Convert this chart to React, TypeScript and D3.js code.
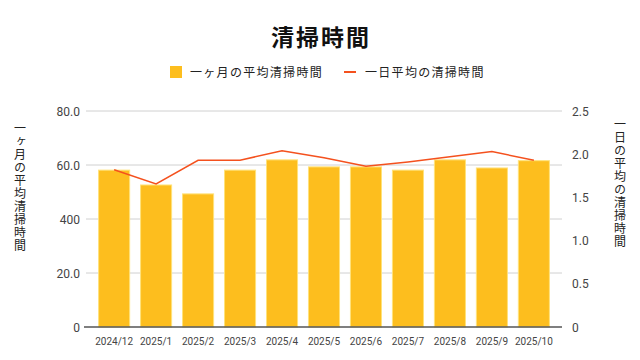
import React from "react";
import * as d3 from "d3";

// data
const months = ["2024/12", "2025/1", "2025/2", "2025/3", "2025/4", "2025/5", "2025/6", "2025/7", "2025/8", "2025/9", "2025/10"];
const monthlyAvg = [58.1, 52.6, 49.3, 58.1, 61.9, 59.3, 59.3, 58.1, 61.9, 58.9, 61.6];
const dailyAvg = [1.82, 1.655, 1.93, 1.93, 2.04, 1.96, 1.86, 1.91, 1.97, 2.03, 1.93];
const leftTicks = [0, 20, 40, 60, 80];
const leftTickLabels = ["0", "20.0", "400", "60.0", "80.0"]; // as shown in the source
const rightTicks = [0, 0.5, 1.0, 1.5, 2.0, 2.5];
const rightTickLabels = ["0", "0.5", "1.0", "1.5", "2.0", "2.5"];

const W = 640, H = 360;
const plot = { left: 86, right: 562, top: 111, bottom: 327 };
const barColor = "#FDBE1E";
const lineColor = "#F4511E";
const font = "Roboto, 'Noto Sans CJK JP', sans-serif";
const jp = "'Noto Sans CJK JP', sans-serif";

export default function App() {
  const x = d3.scaleBand<string>().domain(months).range([plot.left, plot.right]).paddingInner(0.26).paddingOuter(0.3);
  const yL = d3.scaleLinear().domain([0, 80]).range([plot.bottom, plot.top]);
  const yR = d3.scaleLinear().domain([0, 2.5]).range([plot.bottom, plot.top]);

  const line = d3.line<number>()
    .x((_, i) => (x(months[i]) as number) + x.bandwidth() / 2)
    .y((d) => yR(d));

  return (
    <svg width={W} height={H} style={{ position: "absolute", left: 0, top: 0, background: "#fff" }}>
      <text x={321} y={46} textAnchor="middle" fontFamily={jp} fontWeight="bold" fontSize={23} letterSpacing={2} fill="#111">清掃時間</text>

      {/* legend */}
      <rect x={170} y={66} width={12} height={12} fill={barColor} />
      <text x={190} y={76.5} fontFamily={jp} fontSize={12} letterSpacing={1.3} fill="#222">一ヶ月の平均清掃時間</text>
      <rect x={344} y={71} width={12} height={2} fill={lineColor} />
      <text x={365} y={76.5} fontFamily={jp} fontSize={12} letterSpacing={1.3} fill="#222">一日平均の清掃時間</text>

      {/* gridlines */}
      {leftTicks.slice(1).map((t) => (
        <line key={t} x1={plot.left} x2={plot.right} y1={yL(t)} y2={yL(t)} stroke="#d0d0d0" strokeWidth={1} />
      ))}

      {/* bars */}
      {monthlyAvg.map((v, i) => (
        <rect key={months[i]} x={x(months[i])} y={yL(v)} width={x.bandwidth()} height={yL(0) - yL(v)}
          fill={barColor} stroke="#FFE27A" strokeWidth={1} />
      ))}

      {/* line */}
      <path d={line(dailyAvg) || ""} fill="none" stroke={lineColor} strokeWidth={1.5} />

      {/* baseline */}
      <line x1={plot.left - 2} x2={plot.right} y1={plot.bottom} y2={plot.bottom} stroke="#555" strokeWidth={1.5} />

      {/* left axis labels */}
      {leftTicks.map((t, i) => (
        <text key={t} x={80} y={yL(t) + 4.5} textAnchor="end" fontFamily={font} fontSize={12} fill="#444">{leftTickLabels[i]}</text>
      ))}
      {/* right axis labels */}
      {rightTicks.map((t, i) => (
        <text key={t} x={572} y={yR(t) + 4.5} textAnchor="start" fontFamily={font} fontSize={12} fill="#444">{rightTickLabels[i]}</text>
      ))}

      {/* x labels */}
      {months.map((m) => (
        <text key={m} x={(x(m) as number) + x.bandwidth() / 2} y={345} textAnchor="middle" fontFamily={font} fontSize={10} fill="#444">{m}</text>
      ))}

      {/* axis titles */}
      <text x={20} y={122} fontFamily={jp} fontSize={12} letterSpacing={1} fill="#222" style={{ writingMode: "vertical-rl" } as any}>一ヶ月の平均清掃時間</text>
      <text x={620} y={118} fontFamily={jp} fontSize={12} letterSpacing={1} fill="#222" style={{ writingMode: "vertical-rl" } as any}>一日の平均の清掃時間</text>
    </svg>
  );
}
